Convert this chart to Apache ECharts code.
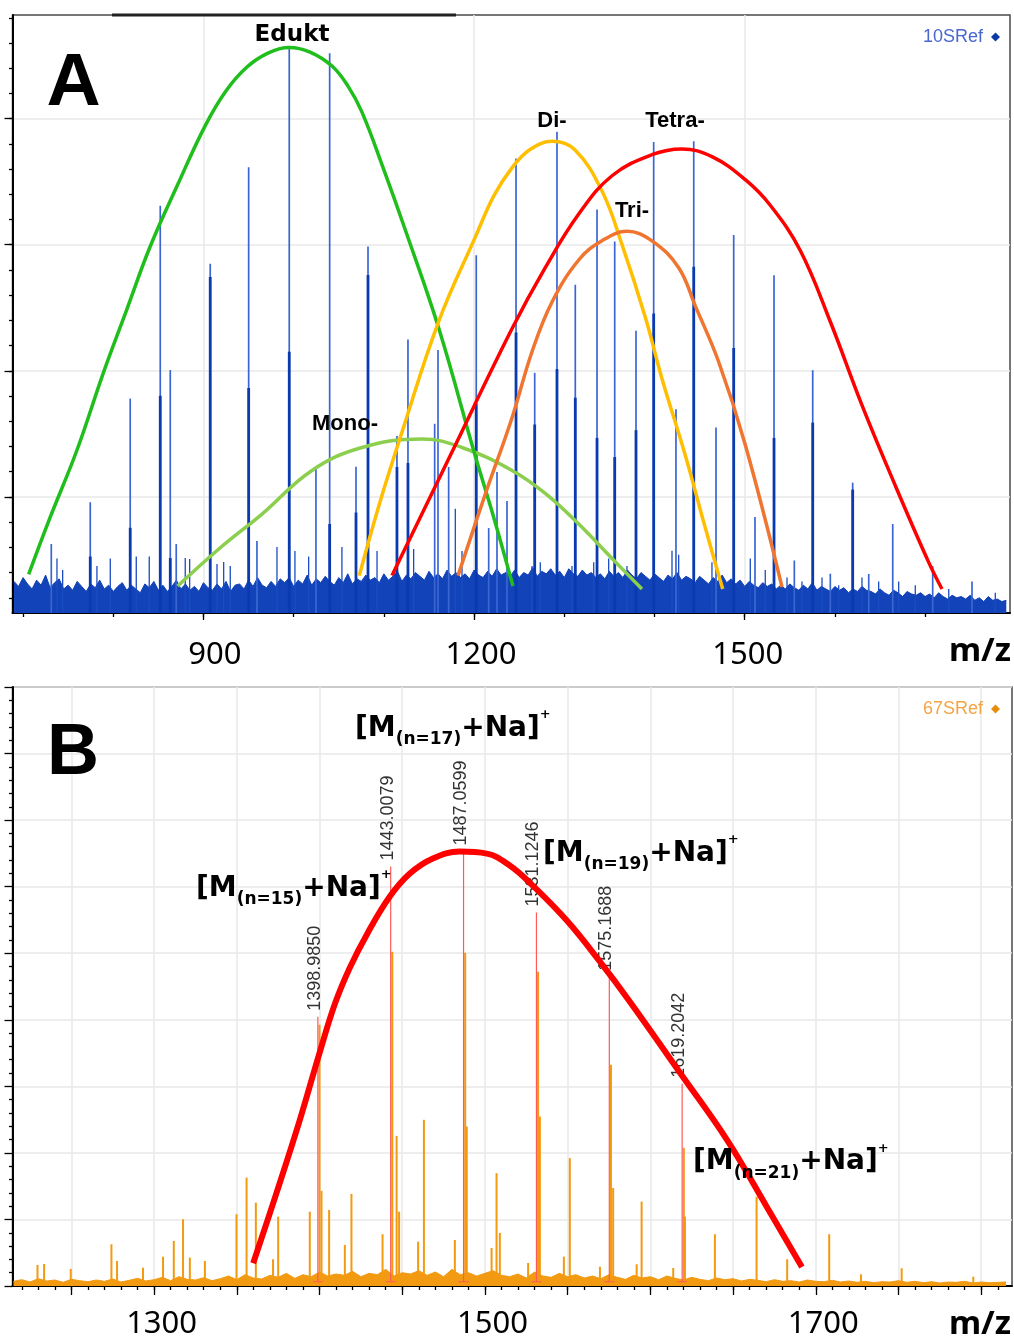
<!DOCTYPE html>
<html>
<head>
<meta charset="utf-8">
<script src="https://cdn.jsdelivr.net/npm/echarts@6.0.0/dist/echarts.min.js"></script>
<style>
html,body{margin:0;padding:0;background:#ffffff;}
#chart{width:1014px;height:1343px;}
</style>
</head>
<body>
<div id="chart"></div>
<script>
/* ================= Panel A : 10SRef ================= */
const rangeA_mz = [688.3, 1794.1];
const rangeA_int = [7.93, 482.2];
const tickMinorA_mz = [700, 800, 900, 1000, 1100, 1200, 1300, 1400, 1500, 1600, 1700];
const tickLabelA_mz = [900, 1200, 1500];
const tickMajorA_int = [100, 200, 300, 400];
const tickMinorA_int = [20,40,60,80,100,120,140,160,180,200,220,240,260,280,300,320,340,360,380,400,420,440,460,480];

const noiseMzA = [690,695,700,705,710,715,720,725,730,735,740,745,750,755,760,765,770,775,780,785,790,795,800,805,810,815,820,825,830,835,840,845,850,855,860,865,870,875,880,885,890,895,900,905,910,915,920,925,930,935,940,945,950,955,960,965,970,975,980,985,990,995,1000,1005,1010,1015,1020,1025,1030,1035,1040,1045,1050,1055,1060,1065,1070,1075,1080,1085,1090,1095,1100,1105,1110,1115,1120,1125,1130,1135,1140,1145,1150,1155,1160,1165,1170,1175,1180,1185,1190,1195,1200,1205,1210,1215,1220,1225,1230,1235,1240,1245,1250,1255,1260,1265,1270,1275,1280,1285,1290,1295,1300,1305,1310,1315,1320,1325,1330,1335,1340,1345,1350,1355,1360,1365,1370,1375,1380,1385,1390,1395,1400,1405,1410,1415,1420,1425,1430,1435,1440,1445,1450,1455,1460,1465,1470,1475,1480,1485,1490,1495,1500,1505,1510,1515,1520,1525,1530,1535,1540,1545,1550,1555,1560,1565,1570,1575,1580,1585,1590,1595,1600,1605,1610,1615,1620,1625,1630,1635,1640,1645,1650,1655,1660,1665,1670,1675,1680,1685,1690,1695,1700,1705,1710,1715,1720,1725,1730,1735,1740,1745,1750,1755,1760,1765,1770,1775,1780,1785,1790];
const noiseIntA = [33,29,36,31,27,34,30,38,28,32, 35,27,30,26,33,29,25,31,28,34, 27,30,25,29,32,26,30,27,24,31, 28,33,26,30,25,29,34,27,31,26, 29,25,32,28,26,31,27,33,25,30, 31,27,34,29,36,30,28,33,29,35, 32,36,29,34,31,38,30,35,32,37, 33,30,36,32,39,31,35,33,38,34, 36,32,39,34,37,41,33,38,35,40, 37,34,41,36,39,35,42,37,40,36, 39,35,42,38,36,41,37,43,38,40, 37,42,36,40,38,44,37,41,39,43, 38,41,36,43,39,37,42,38,40,36, 39,35,41,37,40,36,42,38,35,40, 37,34,39,36,33,38,35,40,34,37, 35,32,37,34,31,36,33,38,32,35, 31,34,29,33,30,28,32,29,31,27, 30,27,31,28,26,30,27,32,26,29, 27,25,29,26,28,24,27,25,29,26, 25,23,27,24,22,26,24,21,25,23, 22,24,21,23,20,24,21,19,22,20, 21,19,22,18,20,17,21,18,19,17, 18];

const peakMzA = [731.3,774.5,818.8,852.1,863.2,869.8,907.5,950.1,959.3,995.1,1024.7,1039.9,1069.1,1082.4,1114.5,1126.7,1156.3,1160.0,1171.8,1202.4,1216.2,1225.4,1236.5,1246.5,1267.2,1291.9,1312.2,1336.3,1355.9,1379.5,1399.1,1423.8,1443.5,1468.2,1487.8,1511.4,1532.5,1555.0,1575.4,1594.9,1619.7,1637.5,1664.1,1708.4,1752.0];
const peakIntA = [62.7,95.8,178.0,331.0,200.6,62.6,284.9,361.4,65.0,456.4,124.0,451.8,124.0,298.6,148.3,224.8,158.0,216.6,123.7,291.6,75.3,119.7,96.7,368.4,198.4,389.6,268.2,328.0,302.5,231.8,381.4,169.5,382.0,155.0,307.7,84.1,275.8,49.6,200.5,39.1,111.3,38.9,78.5,45.2,33.0];
const peakCoreA = [null,52.7,75.5,180.2,51.5,null,274.4,186.4,null,215.1,null,78.5,87.6,276,123.7,126.9,null,null,null,174.1,null,null,null,230.3,157.4,201.4,178.7,146.8,131.6,152.9,245.4,null,282.5,null,218.1,null,146.8,null,158.9,null,105.8,null,null,null,null];

const smallPeakMzA = [737.6,743.9,781.9,796.7,825.5,839.9,879.8,884.7,915.0,922.4,929.7,981.5,1001.4,1016.6,1053.5,1092.4,1133.0,1179.2,1186.6,1264.2,1273.4,1308.5,1332.6,1349.2,1369.5,1419.4,1426.8,1463.7,1506.2,1522.8,1546.9,1563.5,1585.7,1604.2,1630.0,1648.5,1670.7,1689.1,1726.2,1777.8];
const smallPeakIntA = [51.2,42.0,45.2,51.2,52.7,52.7,51.5,50.8,46.8,48.4,45.2,60.3,57.1,52.7,60.3,57.1,58.7,90.6,57.1,45.2,48.1,45.2,48.1,51.2,45.2,57.3,54.2,48.1,51.2,42.0,36.0,33.0,36.0,30.0,36.0,33.0,33.0,30.0,27.0,23.9];

const eduktMz = [706.2,729.8,759.8,789.7,815.2,840.7,871.7,901.7,924.9,948.2,971.5,994.8,1018.1,1042.5,1060.2,1075.7,1100.1,1123.4,1161.1,1201.0,1221.0,1243.1];
const eduktInt = [38.5,83.3,137.2,199.8,249.0,298.2,348.1,394.1,421.9,440.9,452.0,456.4,452.8,441.7,425.8,405.2,359.2,312.5,233.1,133.2,85.6,29.3];
const monoMz = [871.4,918.3,964.9,1020.3,1075.7,1142.2,1186.6,1242.0,1278.9,1316.0,1352.9,1386.1];
const monoInt = [29.3,59.5,86.4,121.0,139.2,145.9,139.2,121.0,102.8,78.5,51.2,27.0];
const diMz = [1072.7,1095.7,1120.1,1160.8,1201.3,1222.0,1242.0,1262.0,1286.4,1311.9,1341.8,1364.0,1389.8,1408.3,1434.1,1456.3,1475.6];
const diInt = [37.6,96.0,151.4,239.3,306.0,339.0,361.0,375.5,382.0,375.1,342.6,300.1,242.4,193.8,133.1,75.5,27.0];
const triMz = [1182.2,1212.1,1242.0,1264.2,1286.4,1316.0,1341.8,1369.5,1397.2,1426.8,1445.2,1471.2,1500.7,1541.4];
const triInt = [37.6,101.5,162.6,215.1,254.6,287.9,303.1,310.7,303.1,281.8,251.5,207.0,141.2,28.5];
const tetraMz = [1109.0,1175.5,1242.0,1278.9,1316.0,1352.9,1397.2,1430.5,1463.7,1500.7,1528.1,1561.3,1594.6,1630.1,1667.0,1704.0,1718.7];
const tetraInt = [37.6,135.6,233.3,281.8,324.3,354.7,371.4,375.9,369.9,351.6,331.5,295.8,239.5,172.6,108.9,48.1,27.0];

/* ================= Panel B : 67SRef ================= */
const rangeB_mz = [1214.4, 1818.6];
const rangeB_int = [0, 9000];
const tickMinorB_mz = [1220,1230,1240,1250,1260,1270,1280,1290,1300,1310,1320,1330,1340,1350,1360,1370,1380,1390,1400,1410,1420,1430,1440,1450,1460,1470,1480,1490,1500,1510,1520,1530,1540,1550,1560,1570,1580,1590,1600,1610,1620,1630,1640,1650,1660,1670,1680,1690,1700,1710,1720,1730,1740,1750,1760,1770,1780,1790,1800,1810];
const tickMajorB_mz = [1250,1300,1350,1400,1450,1500,1550,1600,1650,1700,1750,1800];
const tickLabelB_mz = [1300, 1500, 1700];

const noiseMzB = [1215,1220,1225,1230,1235,1240,1245,1250,1255,1260,1265,1270,1275,1280,1285,1290,1295,1300,1305,1310,1315,1320,1325,1330,1335,1340,1345,1350,1355,1360,1365,1370,1375,1380,1385,1390,1395,1400,1405,1410,1415,1420,1425,1430,1435,1440,1445,1450,1455,1460,1465,1470,1475,1480,1485,1490,1495,1500,1505,1510,1515,1520,1525,1530,1535,1540,1545,1550,1555,1560,1565,1570,1575,1580,1585,1590,1595,1600,1605,1610,1615,1620,1625,1630,1635,1640,1645,1650,1655,1660,1665,1670,1675,1680,1685,1690,1695,1700,1705,1710,1715,1720,1725,1730,1735,1740,1745,1750,1755,1760,1765,1770,1775,1780,1785,1790,1795,1800,1805,1810,1815];
const noiseIntB = [70,95,60,110,75,90,55,100,80,65, 90,70,105,60,85,115,75,95,130,80, 140,100,90,125,80,110,150,95,170,120, 105,160,130,190,115,170,140,210,150,180, 160,220,140,190,170,250,150,200,180,230, 160,210,140,250,170,200,150,190,230,160, 140,180,120,210,150,130,190,140,170,120, 150,110,170,130,100,160,120,140,95,150, 115,90,130,100,80,120,95,110,75,100, 85,65,95,70,80,60,90,70,65,85, 60,75,55,70,50,65,60,80,55,70, 50,65,45,60,55,70,45,60,50,55, 60];

const peakMzB = [1229.5,1233.5,1249.6,1274.2,1277.6,1293.3,1305.4,1311.9,1317.5,1321.6,1330.7,1349.8,1355.9,1361.5,1371.9,1375.0,1394.1,1399.99,1401.2,1405.8,1415.3,1419.3,1438.1,1444.01,1446.6,1448.1,1459.6,1463.1,1481.8,1488.06,1489.0,1504.0,1507.0,1509.0,1526.1,1532.12,1533.2,1547.7,1551.3,1569.5,1576.17,1577.5,1591.7,1594.7,1613.8,1620.2,1620.9,1639.0,1664.2,1682.7,1708.1,1727.3,1751.9,1795.2];
const peakIntB = [316,331,256,627,376,275,441,677,1003,426,376,1078,1629,1253,402,1042,1117,3925,1429,1143,617,1384,778,5023,2256,1117,666,2497,692,5008,2396,572,1695,797,346,4723,2546,441,1921,290,3324,1474,326,1268,271,2076,1042,778,1343,402,778,176,266,140];

const labeledMzB = [1398.9850, 1443.0079, 1487.0599, 1531.1246, 1575.1688, 1619.2042];
const labeledIntB = [4046, 6302, 6527, 5610, 4647, 3038];
const baselineB = 65;

const fitMzB = [1359.9,1374.2,1388.1,1400.2,1409.3,1418.3,1429.2,1442.5,1454.6,1468.5,1484.8,1501.1,1515.0,1528.9,1549.5,1569.5,1587.6,1617.9,1646.3,1670.4,1691.6];
const fitIntB = [341,1414,2497,3519,4241,4783,5309,5851,6196,6422,6527,6497,6317,6016,5490,4873,4271,3204,2196,1188,286];

const ionN = ['15', '17', '19', '21'];

/* ================= helpers ================= */
const DEJ = "'DejaVu Sans', sans-serif";
const ARI = "'Liberation Sans', Arial, sans-serif";
const NOTO = "'Noto Sans', 'Open Sans', sans-serif";

function pts(xs, ys) { return xs.map((x, i) => [x, ys[i]]); }

function stick(xi, yi, xs, ys, base, color, width, z) {
  const data = [];
  xs.forEach((x, i) => { if (ys[i] != null) data.push([x, ys[i]]); });
  return {
    type: 'custom', xAxisIndex: xi, yAxisIndex: yi, z: z, silent: true, data: data,
    renderItem: function (params, api) {
      const x = api.value(0);
      const p1 = api.coord([x, api.value(1)]);
      const p0 = api.coord([x, base]);
      return { type: 'line', shape: { x1: p0[0], y1: p0[1], x2: p1[0], y2: p1[1] },
               style: { stroke: color, lineWidth: width } };
    }
  };
}

function curve(xi, yi, xs, ys, color, width, z) {
  return { type: 'line', xAxisIndex: xi, yAxisIndex: yi, data: pts(xs, ys), smooth: 0.4,
           symbol: 'none', silent: true, z: z,
           lineStyle: { color: color, width: width, cap: 'butt' } };
}

function xAxisPair(gi, range, minorVals, minorLen, majorVals, majorLen, labelVals, margin, rich) {
  const lineStyleTick = { color: '#000', width: 1.3 };
  return [
    { gridIndex: gi, type: 'value', position: 'bottom', min: range[0], max: range[1],
      axisLine: { show: true, onZero: false, lineStyle: { color: '#000', width: 2 } },
      axisTick: { show: true, customValues: minorVals, length: minorLen, lineStyle: lineStyleTick },
      axisLabel: { show: false }, splitLine: { show: false } },
    { gridIndex: gi, type: 'value', position: 'bottom', min: range[0], max: range[1],
      axisLine: { show: false, onZero: false },
      axisTick: { show: true, customValues: majorVals, length: majorLen, lineStyle: lineStyleTick },
      axisLabel: { show: true, customValues: labelVals, margin: margin, color: '#000',
                   fontSize: 31, fontFamily: NOTO,
                   formatter: v => '{t' + v + '|' + v + '}', rich: rich },
      splitLine: { show: true, lineStyle: { color: '#e8e8e8', width: 1.5 } } }
  ];
}

function richPad(vals, pads) {
  const r = {};
  vals.forEach((v, i) => { r['t' + v] = { padding: [0, 0, 0, pads[i]], fontSize: 31, fontFamily: NOTO, color: '#000' }; });
  return r;
}

const xAxesA = xAxisPair(0, rangeA_mz, tickMinorA_mz, 4, tickLabelA_mz, 7, tickLabelA_mz, 27,
                         richPad(tickLabelA_mz, [23, 14, 6]));
const xAxesB = xAxisPair(1, rangeB_mz, tickMinorB_mz, 4, tickMajorB_mz, 9, tickLabelB_mz, 23,
                         richPad(tickLabelB_mz, [15, 15, 15]));

const yTick = { color: '#000', width: 1.3 };
const yAxes = [
  { gridIndex: 0, type: 'value', position: 'left', min: rangeA_int[0], max: rangeA_int[1],
    axisLine: { show: true, onZero: false, lineStyle: { color: '#000', width: 2 } },
    axisTick: { show: true, customValues: tickMinorA_int, length: 3.5, lineStyle: yTick },
    axisLabel: { show: false }, splitLine: { show: false } },
  { gridIndex: 0, type: 'value', position: 'left', min: rangeA_int[0], max: rangeA_int[1],
    axisLine: { show: false, onZero: false },
    axisTick: { show: true, customValues: tickMajorA_int, length: 8, lineStyle: yTick },
    axisLabel: { show: false },
    splitLine: { show: true, lineStyle: { color: '#e8e8e8', width: 1.5 } } },
  { gridIndex: 1, type: 'value', position: 'left', min: rangeB_int[0], max: rangeB_int[1], interval: 1000,
    axisLine: { show: true, onZero: false, lineStyle: { color: '#000', width: 2 } },
    axisTick: { show: true, length: 8, lineStyle: yTick },
    minorTick: { show: true, splitNumber: 5, length: 3.5, lineStyle: yTick },
    axisLabel: { show: false },
    splitLine: { show: true, lineStyle: { color: '#e8e8e8', width: 1.5 } } }
];

function ionLabel(n, x, y) {
  return {
    type: 'text', x: x, y: y, z: 100, silent: true,
    style: {
      text: '{b|[M}{s|(n=' + n + ')}{b|+Na]}{p|+}',
      align: 'left', verticalAlign: 'middle', textAlign: 'left', textVerticalAlign: 'middle',
      rich: {
        b: { fontSize: 28, fontWeight: 'bold', fontFamily: DEJ, fill: '#000', color: '#000', lineHeight: 40 },
        s: { fontSize: 17, fontWeight: 'bold', fontFamily: DEJ, fill: '#000', color: '#000', lineHeight: 18, verticalAlign: 'bottom' },
        p: { fontSize: 13, fontWeight: 'bold', fontFamily: DEJ, fill: '#000', color: '#000', lineHeight: 28, verticalAlign: 'top' }
      }
    }
  };
}

function txt(text, x, y, size, family, weight, color, align) {
  return { type: 'text', x: x, y: y, z: 100, silent: true,
    style: { text: text, fontSize: size, fontFamily: family, fontWeight: weight, fill: color,
             align: align || 'center', verticalAlign: 'middle',
             textAlign: align || 'center', textVerticalAlign: 'middle' } };
}

/* ================= series ================= */
const series = [
  { name: '10SRef', type: 'line', xAxisIndex: 0, yAxisIndex: 0, data: pts(noiseMzA, noiseIntA),
    symbol: 'none', silent: true, z: 2,
    lineStyle: { color: '#0f40b6', width: 1 }, itemStyle: { color: '#0f40b6' },
    areaStyle: { color: '#1343b8', opacity: 1, origin: 'start' } },
  stick(0, 0, smallPeakMzA, smallPeakIntA, rangeA_int[0], '#1a4cc2', 1.3, 3),
  stick(0, 0, peakMzA, peakIntA, rangeA_int[0], '#3a66d4', 1.7, 3),
  stick(0, 0, peakMzA, peakCoreA, rangeA_int[0], '#0a3ab0', 2.8, 4),
  curve(0, 0, monoMz, monoInt, '#8ccf4e', 3.5, 6),
  curve(0, 0, eduktMz, eduktInt, '#1fbe1c', 3.5, 7),
  curve(0, 0, diMz, diInt, '#ffbf00', 3.5, 7),
  curve(0, 0, tetraMz, tetraInt, '#ff0000', 3.5, 8),
  curve(0, 0, triMz, triInt, '#ef7530', 3.5, 8),

  { name: '67SRef', type: 'line', xAxisIndex: 2, yAxisIndex: 2, data: pts(noiseMzB, noiseIntB),
    symbol: 'none', silent: true, z: 2,
    lineStyle: { color: '#f29a12', width: 1 }, itemStyle: { color: '#f29a12' },
    areaStyle: { color: '#f29a12', opacity: 1, origin: 'start' } },
  stick(2, 2, peakMzB, peakIntB, 0, '#f39a10', 2, 3),
  { type: 'custom', xAxisIndex: 2, yAxisIndex: 2, z: 5, silent: true, data: pts(labeledMzB, labeledIntB),
    renderItem: function (params, api) {
      const x = api.value(0);
      const top = api.coord([x, api.value(1)]);
      const base = api.coord([x, baselineB]);
      return { type: 'group', children: [
        { type: 'line', shape: { x1: base[0], y1: base[1], x2: top[0], y2: top[1] }, style: { stroke: '#ff5a5a', lineWidth: 1.2 } },
        { type: 'line', shape: { x1: base[0] - 5, y1: base[1], x2: base[0] + 5, y2: base[1] }, style: { stroke: '#ff5a5a', lineWidth: 1 } },
        { type: 'text', x: top[0] - 3, y: top[1] - 6, rotation: Math.PI / 2,
          style: { text: x.toFixed(4), fill: '#333', fontSize: 18, fontFamily: ARI,
                   align: 'left', verticalAlign: 'middle', textAlign: 'left', textVerticalAlign: 'middle' } }
      ] };
    } },
  curve(2, 2, fitMzB, fitIntB, '#ff0000', 6, 9)
];

const option = {
  animation: false,
  backgroundColor: '#ffffff',
  textStyle: { fontFamily: NOTO },
  grid: [
    { left: 12.5, top: 15, width: 997.5, height: 598, show: true, borderColor: '#4a4a4a', borderWidth: 1.5,
      backgroundColor: 'transparent', containLabel: false, outerBoundsMode: 'none' },
    { left: 12.5, top: 687, width: 999.5, height: 599, show: true, borderColor: '#4a4a4a', borderWidth: 1.5,
      backgroundColor: 'transparent', containLabel: false, outerBoundsMode: 'none' }
  ],
  xAxis: xAxesA.concat(xAxesB),
  yAxis: yAxes,
  legend: [
    { data: [{ name: '10SRef', icon: 'diamond', itemStyle: { color: '#0d3aa8' } }], right: 9, top: 23,
      align: 'right', itemWidth: 9, itemHeight: 9, selectedMode: false,
      textStyle: { color: '#4a66cf', fontSize: 18, fontFamily: ARI, padding: [0, 3, 0, 0] } },
    { data: [{ name: '67SRef', icon: 'diamond', itemStyle: { color: '#e88d0a' } }], right: 9, top: 695,
      align: 'right', itemWidth: 9, itemHeight: 9, selectedMode: false,
      textStyle: { color: '#f5a443', fontSize: 18, fontFamily: ARI, padding: [0, 3, 0, 0] } }
  ],
  graphic: { elements: [
    { type: 'line', z: 100, silent: true, shape: { x1: 112, y1: 15, x2: 456, y2: 15 }, style: { stroke: '#222', lineWidth: 3 } },
    txt('A', 73.5, 84, 75, ARI, 'bold', '#000'),
    txt('B', 73, 754, 72, ARI, 'bold', '#000'),
    txt('Edukt', 292, 35, 23, DEJ, 'bold', '#000'),
    txt('Di-', 552, 121, 22, ARI, 'bold', '#000'),
    txt('Tetra-', 675, 121, 22, ARI, 'bold', '#000'),
    txt('Tri-', 632, 211, 22, ARI, 'bold', '#000'),
    txt('Mono-', 345, 424, 22, ARI, 'bold', '#000'),
    txt('m/z', 980, 652, 33, NOTO, 'bold', '#000'),
    txt('m/z', 980, 1325, 33, NOTO, 'bold', '#000'),
    ionLabel(ionN[1], 355, 728.5),
    ionLabel(ionN[0], 196, 888.5),
    ionLabel(ionN[2], 543, 853.5),
    ionLabel(ionN[3], 693, 1162)
  ] },
  series: series
};

const chart = echarts.init(document.getElementById('chart'), null, { renderer: 'canvas' });
chart.setOption(option);
</script>
</body>
</html>
